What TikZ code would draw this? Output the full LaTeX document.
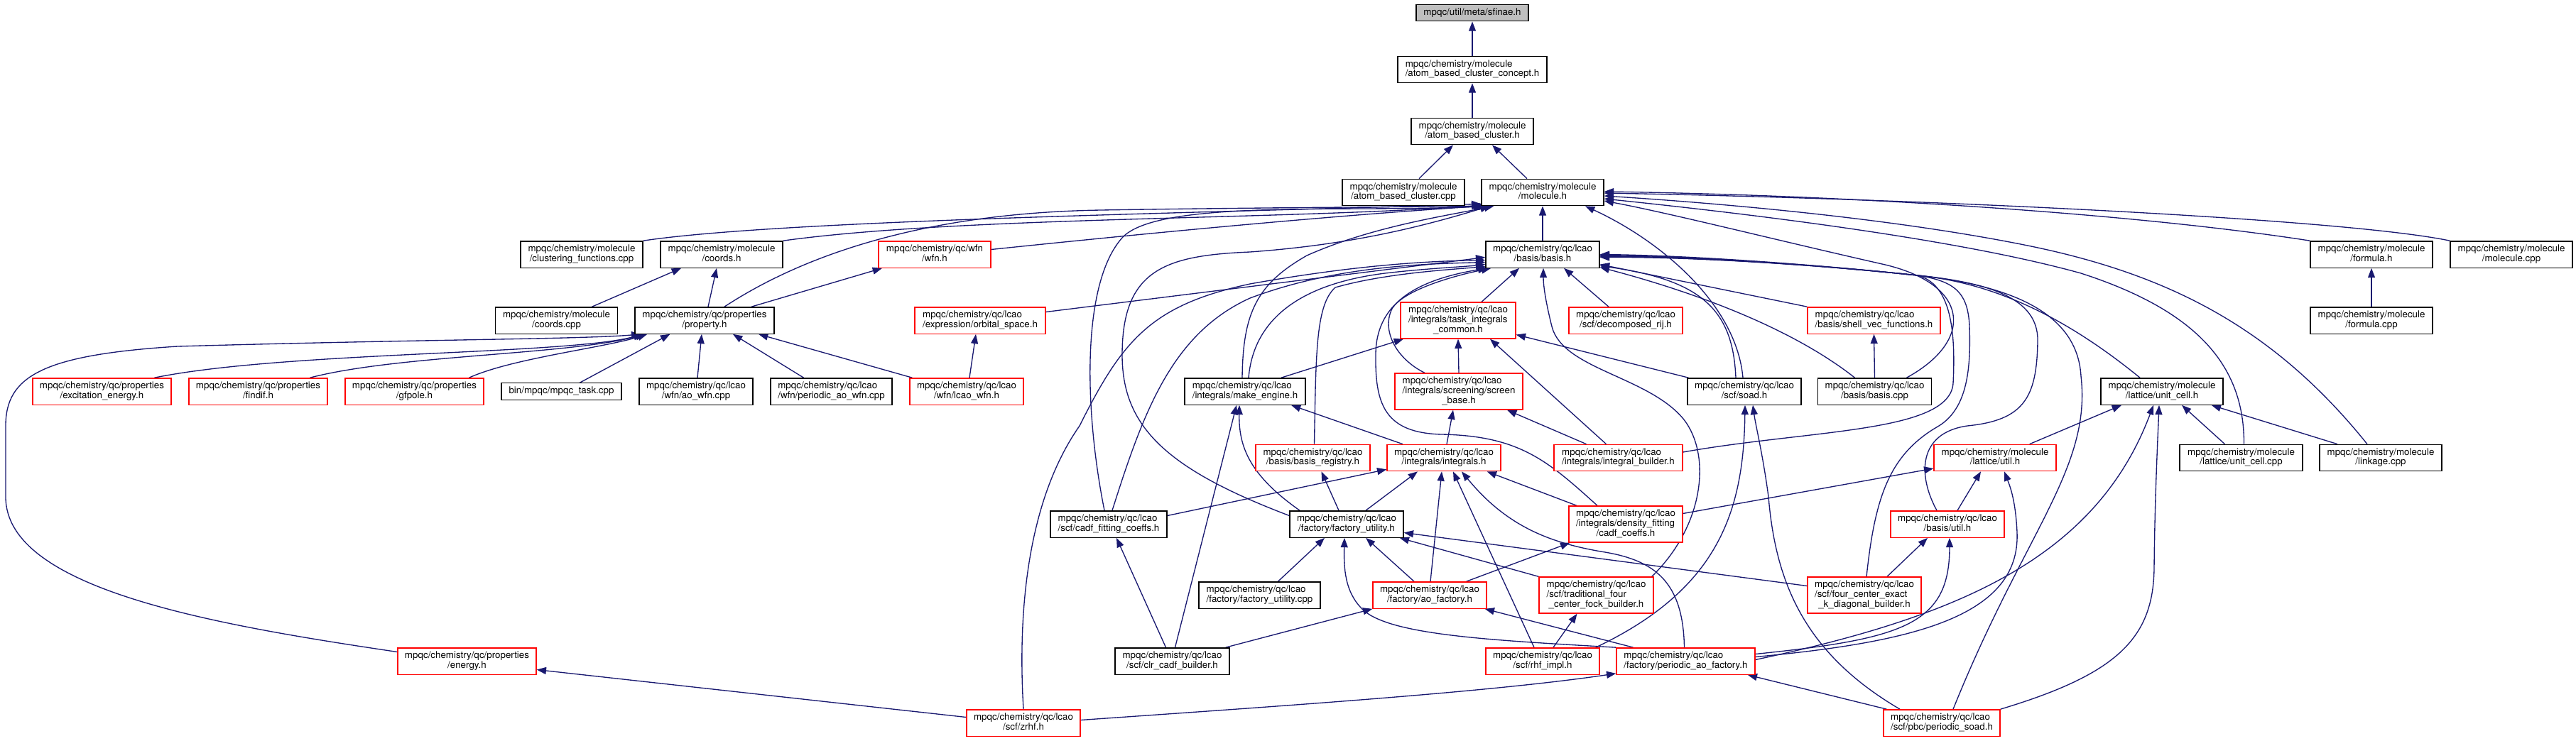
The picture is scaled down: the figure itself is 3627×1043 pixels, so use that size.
\documentclass[tikz,border=0pt]{standalone}
\usepackage{fontspec}
\setmainfont{TeX Gyre Heros}
\usetikzlibrary{arrows.meta,calc}
\definecolor{mblue}{RGB}{25,25,112}
\definecolor{gfill}{RGB}{191,191,191}
\newcommand\twol[2]{\begin{tabular}{@{}l@{}}#1\\\multicolumn{1}{@{}c@{}}{#2}\end{tabular}}
\newcommand\threel[3]{\begin{tabular}{@{}l@{}}#1\\#2\\\multicolumn{1}{@{}c@{}}{#3}\end{tabular}}
\pgfdeclarelayer{bg}
\pgfsetlayers{bg,main}
\tikzset{
  box/.style={draw=black, line width=1pt, fill=white, rectangle, inner sep=0pt, minimum height=28pt, font=\fontsize{10}{10}\selectfont, text=black},
  rbox/.style={box, draw=red},
  tall/.style={minimum height=38.25pt},
  one/.style={minimum height=17.6pt},
  edg/.style={draw=mblue, line width=1pt, -{Triangle[length=10pt,width=7.5pt]}}
}
\begin{document}
\begin{tikzpicture}[x=0.75pt,y=-0.75pt]
\useasboundingbox (0,0) rectangle (3627,1043);
% row 0-3
\node[box,fill=gfill,one,minimum width=118.5pt] (sfinae) at (2073,18) {mpqc/util/meta/sfinae.h};
\node[box,minimum width=157.5pt] (concept) at (2073,98) {\twol{mpqc/chemistry/molecule}{/atom\_based\_cluster\_concept.h}};
\node[box,minimum width=129pt] (abch) at (2073,185) {\twol{mpqc/chemistry/molecule}{/atom\_based\_cluster.h}};
\node[box,minimum width=129pt] (abccpp) at (1976,271) {\twol{mpqc/chemistry/molecule}{/atom\_based\_cluster.cpp}};
\node[box,minimum width=129pt] (molh) at (2172,271) {\twol{mpqc/chemistry/molecule}{/molecule.h}};
% row 4
\node[box,minimum width=129pt] (clust) at (819,358.5) {\twol{mpqc/chemistry/molecule}{/clustering\_functions.cpp}};
\node[box,minimum width=129pt] (coordsh) at (1016,358.5) {\twol{mpqc/chemistry/molecule}{/coords.h}};
\node[rbox,minimum width=118.5pt] (wfnh) at (1316,358.5) {\twol{mpqc/chemistry/qc/wfn}{/wfn.h}};
\node[box,minimum width=120pt] (basish) at (2172,358.5) {\twol{mpqc/chemistry/qc/lcao}{/basis/basis.h}};
\node[box,minimum width=129pt] (formulah) at (3339,358.5) {\twol{mpqc/chemistry/molecule}{/formula.h}};
\node[box,minimum width=129pt] (molcpp) at (3536,358.5) {\twol{mpqc/chemistry/molecule}{/molecule.cpp}};
% row 5
\node[box,minimum width=129pt] (coordscpp) at (783.5,451.5) {\twol{mpqc/chemistry/molecule}{/coords.cpp}};
\node[box,minimum width=147pt] (propertyh) at (992,451.5) {\twol{mpqc/chemistry/qc/properties}{/property.h}};
\node[rbox,minimum width=138pt] (orbital) at (1380,451.5) {\twol{mpqc/chemistry/qc/lcao}{/expression/orbital\_space.h}};
\node[rbox,tall,minimum width=121.5pt] (taskint) at (2053,451.5) {\threel{mpqc/chemistry/qc/lcao}{/integrals/task\_integrals}{\_common.h}};
\node[rbox,minimum width=120pt] (decomp) at (2289,451.5) {\twol{mpqc/chemistry/qc/lcao}{/scf/decomposed\_rij.h}};
\node[rbox,minimum width=140.25pt] (shellvec) at (2638.5,451.5) {\twol{mpqc/chemistry/qc/lcao}{/basis/shell\_vec\_functions.h}};
\node[box,minimum width=129pt] (formulacpp) at (3339,451.5) {\twol{mpqc/chemistry/molecule}{/formula.cpp}};
% row 6
\node[rbox,minimum width=146.25pt] (excit) at (143.5,551.5) {\twol{mpqc/chemistry/qc/properties}{/excitation\_energy.h}};
\node[rbox,minimum width=146.25pt] (findif) at (363.5,551.5) {\twol{mpqc/chemistry/qc/properties}{/findif.h}};
\node[rbox,minimum width=146.25pt] (gfpole) at (583.5,551.5) {\twol{mpqc/chemistry/qc/properties}{/gfpole.h}};
\node[box,one,minimum width=126.75pt] (mpqctask) at (790.5,551.5) {bin/mpqc/mpqc\_task.cpp};
\node[box,minimum width=120pt] (aowfn) at (980,551.5) {\twol{mpqc/chemistry/qc/lcao}{/wfn/ao\_wfn.cpp}};
\node[box,minimum width=128.25pt] (paowfn) at (1170.5,551.5) {\twol{mpqc/chemistry/qc/lcao}{/wfn/periodic\_ao\_wfn.cpp}};
\node[rbox,minimum width=120pt] (lcaowfn) at (1361,551.5) {\twol{mpqc/chemistry/qc/lcao}{/wfn/lcao\_wfn.h}};
\node[box,minimum width=127.5pt] (makeeng) at (1753,551.5) {\twol{mpqc/chemistry/qc/lcao}{/integrals/make\_engine.h}};
\node[rbox,tall,minimum width=135pt] (screen) at (2054,551.5) {\threel{mpqc/chemistry/qc/lcao}{/integrals/screening/screen}{\_base.h}};
\node[box,minimum width=120pt] (soad) at (2456,551.5) {\twol{mpqc/chemistry/qc/lcao}{/scf/soad.h}};
\node[box,minimum width=120pt] (basiscpp) at (2639.5,551.5) {\twol{mpqc/chemistry/qc/lcao}{/basis/basis.cpp}};
\node[box,minimum width=129pt] (unitcellh) at (3044,551.5) {\twol{mpqc/chemistry/molecule}{/lattice/unit\_cell.h}};
% row 7
\node[rbox,minimum width=120.75pt] (basisreg) at (1848.5,645) {\twol{mpqc/chemistry/qc/lcao}{/basis/basis\_registry.h}};
\node[rbox,minimum width=120pt] (integrals) at (2033,645) {\twol{mpqc/chemistry/qc/lcao}{/integrals/integrals.h}};
\node[rbox,minimum width=135.75pt] (intbuilder) at (2278.5,645) {\twol{mpqc/chemistry/qc/lcao}{/integrals/integral\_builder.h}};
\node[rbox,minimum width=129pt] (latutil) at (2809,645) {\twol{mpqc/chemistry/molecule}{/lattice/util.h}};
\node[box,minimum width=129.75pt] (unitcellcpp) at (3155.5,645) {\twol{mpqc/chemistry/molecule}{/lattice/unit\_cell.cpp}};
\node[box,minimum width=129pt] (linkage) at (3352,645) {\twol{mpqc/chemistry/molecule}{/linkage.cpp}};
% row 8
\node[box,minimum width=123pt] (cadffit) at (1561,738.5) {\twol{mpqc/chemistry/qc/lcao}{/scf/cadf\_fitting\_coeffs.h}};
\node[box,minimum width=120pt] (futilh) at (1896,738.5) {\twol{mpqc/chemistry/qc/lcao}{/factory/factory\_utility.h}};
\node[rbox,tall,minimum width=120pt] (cadfcoeffs) at (2289,738.5) {\threel{mpqc/chemistry/qc/lcao}{/integrals/density\_fitting}{/cadf\_coeffs.h}};
\node[rbox,minimum width=120pt] (basisutil) at (2742,738.5) {\twol{mpqc/chemistry/qc/lcao}{/basis/util.h}};
% row 9
\node[box,minimum width=128.25pt] (futilcpp) at (1773.5,838.5) {\twol{mpqc/chemistry/qc/lcao}{/factory/factory\_utility.cpp}};
\node[rbox,minimum width=120pt] (aofactory) at (2013,838.5) {\twol{mpqc/chemistry/qc/lcao}{/factory/ao\_factory.h}};
\node[rbox,tall,minimum width=120.75pt] (tradfock) at (2247.5,838.5) {\threel{mpqc/chemistry/qc/lcao}{/scf/traditional\_four}{\_center\_fock\_builder.h}};
\node[rbox,tall,minimum width=120pt] (fourcenter) at (2625,838.5) {\threel{mpqc/chemistry/qc/lcao}{/scf/four\_center\_exact}{\_k\_diagonal\_builder.h}};
% row 10
\node[rbox,minimum width=146.25pt] (energy) at (657.5,931.5) {\twol{mpqc/chemistry/qc/properties}{/energy.h}};
\node[box,minimum width=120.75pt] (clrcadf) at (1650.5,931.5) {\twol{mpqc/chemistry/qc/lcao}{/scf/clr\_cadf\_builder.h}};
\node[rbox,minimum width=120pt] (rhfimpl) at (2172,931.5) {\twol{mpqc/chemistry/qc/lcao}{/scf/rhf\_impl.h}};
\node[rbox,minimum width=146.25pt] (paofactory) at (2373.5,931.5) {\twol{mpqc/chemistry/qc/lcao}{/factory/periodic\_ao\_factory.h}};
% row 11
\node[rbox,minimum width=120pt] (zrhf) at (1441,1018.5) {\twol{mpqc/chemistry/qc/lcao}{/scf/zrhf.h}};
\node[rbox,minimum width=123pt] (psoad) at (2734,1018.5) {\twol{mpqc/chemistry/qc/lcao}{/scf/pbc/periodic\_soad.h}};

\begin{pgfonlayer}{bg}
% top chain
\draw[edg] (concept.north) -- (sfinae.south);
\draw[edg] (abch.north) -- (concept.south);
\draw[edg] ($(abccpp.north)+(22,0)$) -- ($(abch.south)+(-27,0)$);
\draw[edg] ($(molh.north)+(-22,0)$) -- ($(abch.south)+(28,0)$);
% into molecule.h
\draw[edg] (clust.north east) .. controls (1100,310) and (1700,300) .. ($(molh.south west)+(0,-3)$);
\draw[edg] (coordsh.north east) .. controls (1350,305) and (1800,310) .. ($(molh.south west)+(0,-1)$);
\draw[edg] ($(wfnh.east)+(0,-7)$) .. controls (1650,325) and (1900,302) .. ($(molh.south west)+(3,0)$);
\draw[edg] ($(propertyh.north)+(28,0)$) .. controls (1130,360) and (1300,300) .. (1550,296) .. controls (1800,292) and (1950,292) .. ($(molh.south west)+(6,0)$);
\draw[edg] ($(cadffit.north)+(-6,0)$) .. controls (1527,580) and (1522,400) .. (1580,335) .. controls (1630,280) and (1900,300) .. ($(molh.south west)+(10,0)$);
\draw[edg] ($(futilh.west)+(0,-12)$) .. controls (1640,660) and (1580,600) .. (1580,500) .. controls (1580,380) and (1640,360) .. (1760,355) .. controls (1900,345) and (2000,320) .. ($(molh.south west)+(12,0)$);
\draw[edg] ($(makeeng.north)+(-4,0)$) .. controls (1750,440) and (1770,400) .. (1840,360) .. controls (1930,320) and (2030,305) .. ($(molh.south west)+(18,0)$);
\draw[edg] (basish.north) -- (molh.south);
\draw[edg] ($(soad.north)+(-2,0)$) .. controls (2445,430) and (2340,340) .. ($(molh.south)+(60,0)$);
\draw[edg] ($(basiscpp.north)+(45,0)$) .. controls (2780,480) and (2775,400) .. (2650,372) .. controls (2500,338) and (2350,300) .. ($(molh.east)+(0,12)$);
\draw[edg] (formulah.north west) .. controls (3000,300) and (2600,275) .. ($(molh.east)+(0,-1)$);
\draw[edg] (molcpp.north west) .. controls (3300,308) and (2700,280) .. ($(molh.east)+(0,1)$);
\draw[edg] ($(linkage.north)+(-19,0)$) .. controls (3200,460) and (3050,385) .. (2850,345) .. controls (2650,305) and (2400,285) .. ($(molh.east)+(0,5)$);
\draw[edg] ($(unitcellcpp.north)+(4,0)$) .. controls (3160,520) and (3100,440) .. (2930,385) .. controls (2750,335) and (2450,300) .. ($(molh.east)+(0,9)$);
% formula, coords, property
\draw[edg] (formulacpp.north) -- (formulah.south);
\draw[edg] ($(coordscpp.north)+(50,0)$) -- ($(coordsh.south)+(-57,0)$);
\draw[edg] ($(propertyh.north)+(5,0)$) -- ($(coordsh.south)+(-7,0)$);
\draw[edg] ($(propertyh.north)+(66,0)$) -- ($(wfnh.south)+(-74,0)$);
\draw[edg] ($(excit.north)+(74,0)$) .. controls (400,495) and (800,500) .. ($(propertyh.south west)+(12,0)$);
\draw[edg] ($(findif.north)+(73,0)$) .. controls (560,500) and (800,500) .. ($(propertyh.south west)+(15,0)$);
\draw[edg] ($(gfpole.north)+(77,0)$) .. controls (720,505) and (850,490) .. ($(propertyh.south west)+(18,0)$);
\draw[edg] ($(mpqctask.north)+(26,0)$) -- ($(propertyh.south west)+(50,0)$);
\draw[edg] ($(aowfn.north)+(2,0)$) -- ($(propertyh.south)+(-4,0)$);
\draw[edg] ($(paowfn.north)+(-39,0)$) -- ($(propertyh.south)+(40,0)$);
\draw[edg] ($(lcaowfn.north west)+(4,0)$) -- ($(propertyh.south)+(76,0)$);
\draw[edg] ($(energy.west)+(0,-13)$) .. controls (300,880) and (8,830) .. (8,700) -- (8,600) .. controls (8,530) and (60,500) .. (250,488) .. controls (600,478) and (820,478) .. ($(propertyh.south west)+(9,0)$);
\draw[edg] ($(lcaowfn.north)+(4,0)$) -- ($(orbital.south)+(-6,0)$);
% into basis.h
\draw[edg] ($(orbital.east)+(0,-12)$) -- ($(basish.west)+(0,4)$);
\draw[edg] (zrhf.north) .. controls (1432,850) and (1450,700) .. (1520,600) .. controls (1580,480) and (1620,430) .. (1760,400) .. controls (1900,375) and (2000,368) .. ($(basish.west)+(0,8)$);
\draw[edg] ($(cadffit.north)+(5,0)$) .. controls (1610,580) and (1650,470) .. (1760,420) .. controls (1880,375) and (2000,372) .. ($(basish.west)+(0,11)$);
\draw[edg] ($(makeeng.north)+(5,0)$) .. controls (1765,450) and (1830,400) .. (1950,385) .. controls (2010,378) and (2060,376) .. ($(basish.west)+(0,14)$);
\draw[edg] ($(basisreg.north)+(2,0)$) .. controls (1853,500) and (1852,430) .. (1880,405) .. controls (1950,385) and (2040,380) .. ($(basish.west)+(0,17)$);
\draw[edg] ($(cadfcoeffs.north)+(-40,0)$) .. controls (2180,650) and (2140,614) .. (2030,612) .. controls (1950,610) and (1936,570) .. (1937,500) .. controls (1937,430) and (1990,395) .. ($(basish.south west)+(3,0)$);
\draw[edg] ($(screen.north)+(-48,0)$) .. controls (1965,505) and (1945,465) .. (1960,435) .. controls (1975,410) and (2040,390) .. ($(basish.south west)+(8,0)$);
\draw[edg] ($(taskint.north)+(33,0)$) -- ($(basish.south)+(-33,0)$);
\draw[edg] ($(decomp.north)+(-24,0)$) -- ($(basish.south)+(30,0)$);
\draw[edg] (shellvec.north west) -- ($(basish.east)+(0,14)$);
\draw[edg] ($(soad.north)+(-12,0)$) .. controls (2440,440) and (2400,395) .. ($(basish.east)+(0,16)$);
\draw[edg] ($(basiscpp.north)+(-28,0)$) .. controls (2520,460) and (2380,410) .. ($(basish.east)+(0,18)$);
\draw[edg] ($(tradfock.north east)+(-3,0)$) .. controls (2400,740) and (2410,640) .. (2370,590) .. controls (2320,530) and (2200,520) .. (2185,460) .. controls (2175,420) and (2173,400) .. ($(basish.south)+(1,0)$);
\draw[edg] ($(intbuilder.east)+(0,-8)$) .. controls (2550,605) and (2745,610) .. (2750,540) .. controls (2754,460) and (2745,400) .. (2700,388) .. controls (2550,372) and (2380,360) .. (basish.east);
\draw[edg] ($(fourcenter.north)+(3,0)$) .. controls (2640,700) and (2660,640) .. (2730,600) .. controls (2770,575) and (2775,520) .. (2773,460) .. controls (2771,410) and (2750,396) .. (2700,388) .. controls (2550,372) and (2380,361) .. ($(basish.east)+(0,1)$);
\draw[edg] ($(basisutil.north)+(-15,0)$) .. controls (2700,670) and (2700,610) .. (2770,600) .. controls (2850,592) and (2868,560) .. (2869,480) .. controls (2870,420) and (2800,398) .. (2700,388) .. controls (2550,372) and (2380,362) .. ($(basish.east)+(0,2)$);
\draw[edg] ($(psoad.north)+(16,0)$) .. controls (2850,750) and (2945,660) .. (2930,530) .. controls (2925,440) and (2830,402) .. (2700,388) .. controls (2550,372) and (2380,362) .. ($(basish.east)+(0,3)$);
\draw[edg] ($(unitcellh.north)+(-31,0)$) .. controls (2900,440) and (2800,398) .. (2700,388) .. controls (2550,372) and (2380,362) .. ($(basish.east)+(0,4)$);
% middle
\draw[edg] (basiscpp.north) -- (shellvec.south);
\draw[edg] ($(makeeng.north)+(51,0)$) -- ($(taskint.south)+(-77,0)$);
\draw[edg] (screen.north) -- (taskint.south);
\draw[edg] ($(intbuilder.north)+(-17,0)$) -- ($(taskint.south)+(45,0)$);
\draw[edg] ($(soad.north west)+(2,0)$) -- ($(taskint.east)+(0,20)$);
\draw[edg] ($(integrals.north)+(4,0)$) -- ($(screen.south)+(-8,0)$);
\draw[edg] ($(intbuilder.north)+(-45,0)$) -- ($(screen.south)+(68,0)$);
\draw[edg] ($(integrals.north)+(-58,0)$) -- ($(makeeng.south)+(65,0)$);
\draw[edg] ($(futilh.north)+(-66,0)$) .. controls (1760,670) and (1744,630) .. ($(makeeng.south)+(-8,0)$);
\draw[edg] ($(clrcadf.north)+(4,0)$) -- ($(makeeng.south)+(-12,0)$);
\draw[edg] ($(futilh.north)+(-11,0)$) -- ($(basisreg.south)+(12,0)$);
\draw[edg] ($(futilh.north)+(27,0)$) -- ($(integrals.south)+(-37,0)$);
\draw[edg] ($(cadffit.east)+(0,-12)$) -- ($(integrals.south west)+(0,-3)$);
\draw[edg] ($(aofactory.north)+(1,0)$) -- ($(integrals.south)+(-3,0)$);
\draw[edg] ($(rhfimpl.north)+(-12,0)$) -- ($(integrals.south)+(13,0)$);
\draw[edg] ($(paofactory.north)+(-2,0)$) .. controls (2370,820) and (2330,790) .. (2260,778) .. controls (2180,765) and (2120,740) .. ($(integrals.south)+(25,0)$);
\draw[edg] ($(cadfcoeffs.north)+(-69,0)$) -- ($(integrals.south east)+(-20,0)$);
\draw[edg] ($(futilcpp.north)+(26,0)$) -- ($(futilh.south)+(-31,0)$);
\draw[edg] ($(aofactory.north)+(-22,0)$) -- ($(futilh.south)+(27,0)$);
\draw[edg] (paofactory.north west) .. controls (2100,902) and (1960,895) .. (1920,860) .. controls (1893,835) and (1892,800) .. ($(futilh.south)+(-3,0)$);
\draw[edg] (tradfock.north west) -- ($(futilh.south east)+(-6,0)$);
\draw[edg] ($(fourcenter.west)+(0,-13)$) -- ($(futilh.east)+(0,12)$);
\draw[edg] ($(clrcadf.north)+(-9,0)$) -- ($(cadffit.south)+(11,0)$);
\draw[edg] ($(clrcadf.north east)+(-6,0)$) -- (aofactory.south west);
\draw[edg] ($(paofactory.north)+(-74,0)$) -- ($(aofactory.south east)+(-3,0)$);
\draw[edg] ($(aofactory.north east)+(-29,0)$) -- ($(cadfcoeffs.south west)+(2,0)$);
\draw[edg] ($(cadfcoeffs.east)+(0,-15)$) -- ($(latutil.west)+(0,15)$);
\draw[edg] ($(rhfimpl.north)+(15,0)$) -- ($(tradfock.south)+(-27,0)$);
\draw[edg] ($(rhfimpl.north east)+(-6,0)$) .. controls (2420,830) and (2455,720) .. ($(soad.south)+(1,0)$);
\draw[edg] ($(psoad.north)+(-59,0)$) .. controls (2540,920) and (2500,820) .. (2490,700) .. controls (2482,640) and (2472,600) .. ($(soad.south)+(12,0)$);
\draw[edg] ($(psoad.north west)+(5,0)$) -- ($(paofactory.south east)+(-11,0)$);
\draw[edg] (psoad.north east) .. controls (2980,950) and (3032,900) .. (3033,800) .. controls (3034,700) and (3038,620) .. ($(unitcellh.south)+(-4,0)$);
\draw[edg] ($(zrhf.east)+(0,-4)$) .. controls (1800,995) and (2100,975) .. ($(paofactory.south west)+(0,-2)$);
\draw[edg] ($(zrhf.west)+(0,-8)$) -- ($(energy.east)+(0,12)$);
\draw[edg] ($(paofactory.east)+(0,-10)$) .. controls (2680,900) and (2745,880) .. ($(basisutil.south)+(3,0)$);
\draw[edg] ($(paofactory.east)+(0,-6)$) .. controls (2690,905) and (2845,870) .. (2840,750) .. controls (2838,705) and (2830,685) .. ($(latutil.south)+(13,0)$);
\draw[edg] ($(paofactory.east)+(0,-2)$) .. controls (2750,870) and (2950,790) .. ($(unitcellh.south)+(-12,0)$);
\draw[edg] ($(fourcenter.north)+(32,0)$) -- ($(basisutil.south)+(-28,0)$);
\draw[edg] ($(basisutil.north)+(14,0)$) -- ($(latutil.south)+(-20,0)$);
\draw[edg] ($(latutil.north east)+(-38,0)$) -- ($(unitcellh.south)+(-57,0)$);
\draw[edg] ($(unitcellcpp.north)+(-23,0)$) -- ($(unitcellh.south)+(28,0)$);
\draw[edg] ($(linkage.north)+(-61,0)$) -- ($(unitcellh.south east)+(-17,0)$);
\end{pgfonlayer}
\end{tikzpicture}
\end{document}
